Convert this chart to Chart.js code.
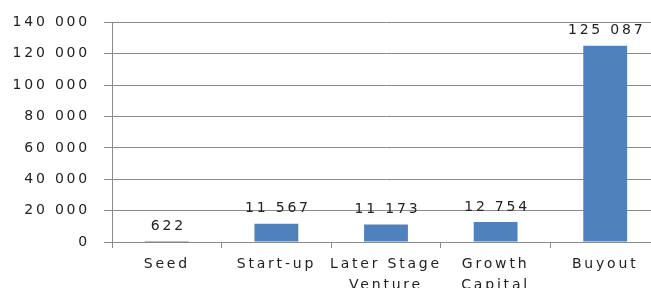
<!DOCTYPE html>
<html>
<head>
<meta charset="utf-8">
<script src="https://cdn.jsdelivr.net/npm/chart.js@4/dist/chart.umd.min.js"></script>
<style>
  html, body { margin: 0; padding: 0; background: #fff; overflow: hidden; width: 651px; height: 288px; }
  #wrap { position: absolute; left: 0; top: 0; width: 660px; height: 300px; }
</style>
</head>
<body>
<div id="wrap"><canvas id="c" width="660" height="300"></canvas></div>
<script>
const categories = ['Seed', 'Start-up', ['Later Stage', 'Venture'], ['Growth', 'Capital'], 'Buyout'];
const values = [622, 11567, 11173, 12754, 125087];
const yTicks = [0, 20000, 40000, 60000, 80000, 100000, 120000, 140000];

const FONT = { family: '"DejaVu Sans", Verdana, sans-serif', size: 14 };
const TEXT = '#222';
const GRID = '#8a8a8a';
const SPACING = '2.8px';

function fmt(v) {
  return String(v).replace(/\B(?=(\d{3})+(?!\d))/g, ' ');
}

const spacingPlugin = {
  id: 'spacing',
  beforeUpdate(chart) { chart.ctx.letterSpacing = SPACING; },
  beforeDraw(chart) { chart.ctx.letterSpacing = SPACING; }
};

const labelPlugin = {
  id: 'barLabels',
  afterDatasetsDraw(chart) {
    const ctx = chart.ctx;
    const meta = chart.getDatasetMeta(0);
    ctx.save();
    ctx.letterSpacing = SPACING;
    ctx.font = FONT.size + 'px ' + FONT.family;
    ctx.fillStyle = TEXT;
    ctx.textAlign = 'center';
    ctx.textBaseline = 'bottom';
    meta.data.forEach((bar, i) => {
      ctx.fillText(fmt(values[i]), bar.x + 1.5, bar.y - 8);
    });
    ctx.restore();
  }
};

new Chart(document.getElementById('c'), {
  type: 'bar',
  data: {
    labels: categories,
    datasets: [{
      data: values,
      backgroundColor: '#4F81BD',
      borderWidth: 0,
      categoryPercentage: 1,
      barPercentage: 0.4
    }]
  },
  options: {
    responsive: false,
    animation: false,
    devicePixelRatio: 1,
    layout: { padding: { top: 20, right: 0, left: 0, bottom: 0 } },
    plugins: { legend: { display: false }, tooltip: { enabled: false }, title: { display: false } },
    scales: {
      x: {
        grid: { display: true, drawOnChartArea: false, drawTicks: true, tickLength: 6, color: GRID, offset: true },
        border: { display: true, color: GRID },
        ticks: {
          font: { ...FONT, lineHeight: 1.5 },
          color: TEXT,
          padding: 6,
          maxRotation: 0,
          autoSkip: false
        },
        afterFit(scale) { scale.height = 58; }
      },
      y: {
        min: 0,
        max: 140000,
        afterBuildTicks(scale) { scale.ticks = yTicks.map(v => ({ value: v })); },
        grid: { color: GRID, drawTicks: true, tickLength: 8 },
        border: { display: true, color: GRID },
        ticks: {
          font: FONT,
          color: TEXT,
          padding: 14,
          callback: (v) => fmt(v)
        },
        afterFit(scale) { scale.width = 112; }
      }
    }
  },
  plugins: [spacingPlugin, labelPlugin]
});
</script>
</body>
</html>
